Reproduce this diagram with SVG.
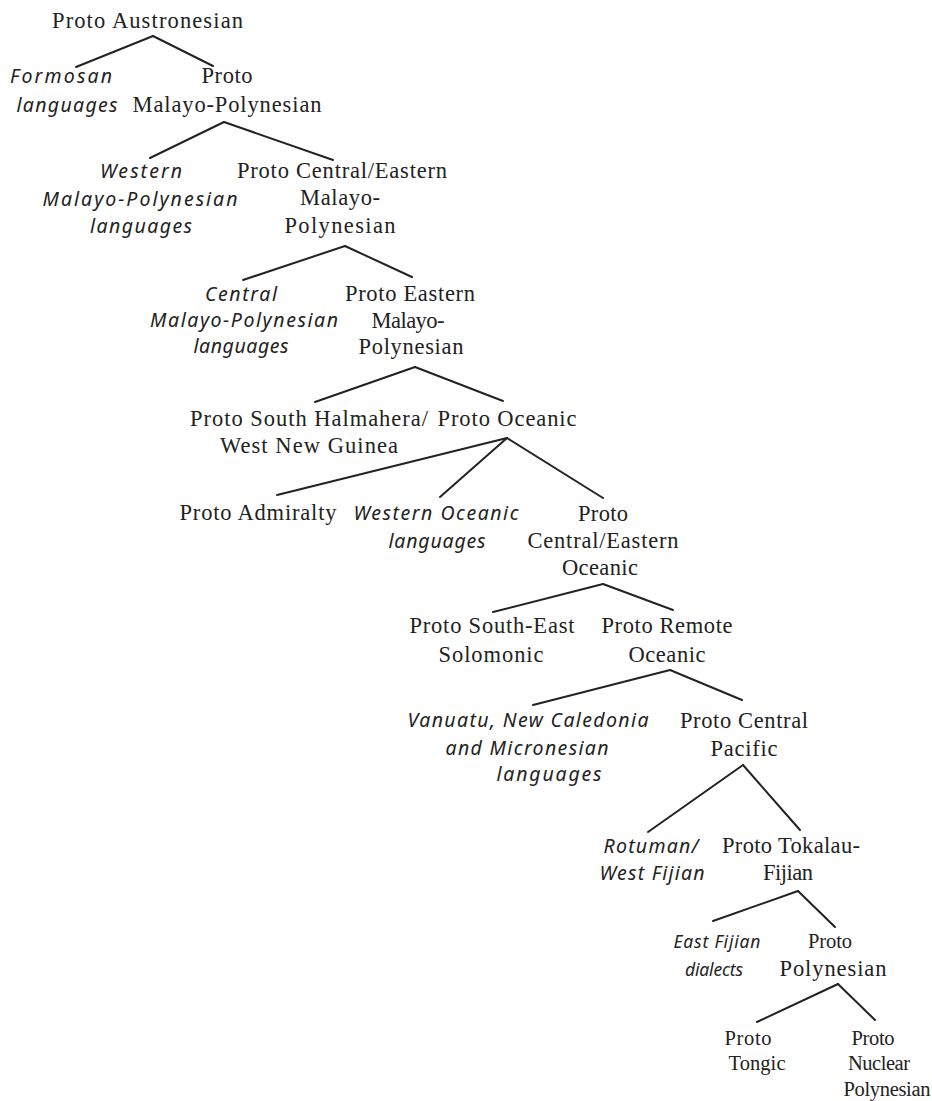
<svg xmlns="http://www.w3.org/2000/svg" width="932" height="1101" viewBox="0 0 932 1101">
<style>
text{fill:#222;text-anchor:middle}
.r{font-family:"Liberation Serif","Times New Roman",serif;font-size:22.5px}
.i{font-family:"Noto Sans","DejaVu Sans",sans-serif;font-size:19.5px;font-style:italic}
.s{font-size:20.5px}
.t{font-size:17.5px}
.c line{stroke:#222;stroke-width:2;stroke-linecap:round}
</style>
<rect width="932" height="1101" fill="#fff"/>
<g class="c" id="connectors">
<line x1="153" y1="36" x2="76" y2="67"/>
<line x1="153" y1="36" x2="213" y2="66"/>
<line x1="224" y1="122" x2="150" y2="158"/>
<line x1="224" y1="122" x2="333" y2="160"/>
<line x1="345" y1="246" x2="243" y2="280"/>
<line x1="345" y1="246" x2="412" y2="277"/>
<line x1="415" y1="367" x2="315" y2="402"/>
<line x1="415" y1="367" x2="503" y2="401"/>
<line x1="507" y1="438" x2="277" y2="495"/>
<line x1="507" y1="438" x2="440" y2="497"/>
<line x1="507" y1="438" x2="603" y2="498"/>
<line x1="603" y1="584" x2="493" y2="612"/>
<line x1="603" y1="584" x2="673" y2="610"/>
<line x1="670" y1="670" x2="533" y2="705"/>
<line x1="670" y1="670" x2="742" y2="700"/>
<line x1="743" y1="765" x2="648" y2="832"/>
<line x1="743" y1="765" x2="800" y2="830"/>
<line x1="798" y1="891" x2="713" y2="921"/>
<line x1="798" y1="891" x2="835" y2="927"/>
<line x1="838" y1="984" x2="757" y2="1022"/>
<line x1="838" y1="984" x2="875" y2="1020"/>
</g>
<g id="proto-austronesian"><text class="r" x="147.5" y="28" textLength="191">Proto Austronesian</text></g>
<g id="formosan"><text class="i" x="61" y="83" textLength="102">Formosan</text><text class="i" x="67" y="112" textLength="101">languages</text></g>
<g id="proto-malayo-polynesian"><text class="r" x="227" y="83" textLength="51">Proto</text><text class="r" x="227" y="112" textLength="189">Malayo-Polynesian</text></g>
<g id="western-mp"><text class="i" x="141" y="178" textLength="82">Western</text><text class="i" x="140" y="206" textLength="195">Malayo-Polynesian</text><text class="i" x="141" y="233" textLength="102">languages</text></g>
<g id="proto-central-eastern-mp"><text class="r" x="342" y="178" textLength="210">Proto Central/Eastern</text><text class="r" x="340" y="205" textLength="80">Malayo-</text><text class="r" x="340" y="233" textLength="111">Polynesian</text></g>
<g id="central-mp"><text class="i" x="241" y="301" textLength="72">Central</text><text class="i" x="244" y="327" textLength="188">Malayo-Polynesian</text><text class="i" x="241" y="353" textLength="95">languages</text></g>
<g id="proto-eastern-mp"><text class="r" x="410" y="301" textLength="130">Proto Eastern</text><text class="r" x="408" y="328" textLength="73">Malayo-</text><text class="r" x="411" y="354" textLength="105">Polynesian</text></g>
<g id="proto-shwng"><text class="r" x="309" y="426" textLength="238">Proto South Halmahera/</text><text class="r" x="309" y="453" textLength="178">West New Guinea</text></g>
<g id="proto-oceanic"><text class="r" x="507" y="426" textLength="139">Proto Oceanic</text></g>
<g id="proto-admiralty"><text class="r" x="258" y="520" textLength="157">Proto Admiralty</text></g>
<g id="western-oceanic"><text class="i" x="436" y="520" textLength="165">Western Oceanic</text><text class="i" x="437" y="548" textLength="97">languages</text></g>
<g id="proto-central-eastern-oceanic"><text class="r" x="603" y="521" textLength="50">Proto</text><text class="r" x="603" y="548" textLength="151">Central/Eastern</text><text class="r" x="600" y="575" textLength="76">Oceanic</text></g>
<g id="proto-se-solomonic"><text class="r" x="492" y="633" textLength="165">Proto South-East</text><text class="r" x="491" y="662" textLength="105">Solomonic</text></g>
<g id="proto-remote-oceanic"><text class="r" x="667" y="633" textLength="131">Proto Remote</text><text class="r" x="667" y="662" textLength="77">Oceanic</text></g>
<g id="vanuatu"><text class="i" x="528" y="727" textLength="241">Vanuatu, New Caledonia</text><text class="i" x="527" y="755" textLength="163">and Micronesian</text><text class="i" x="549" y="781" textLength="105">languages</text></g>
<g id="proto-central-pacific"><text class="r" x="744" y="728" textLength="128">Proto Central</text><text class="r" x="744" y="756" textLength="67">Pacific</text></g>
<g id="rotuman"><text class="i" x="651" y="853" textLength="95">Rotuman/</text><text class="i" x="652" y="880" textLength="105">West Fijian</text></g>
<g id="proto-tokalau-fijian"><text class="r" x="791" y="853" textLength="138">Proto Tokalau-</text><text class="r" x="788" y="880" textLength="50">Fijian</text></g>
<g id="east-fijian"><text class="i t" x="717" y="948" textLength="87">East Fijian</text><text class="i t" x="714" y="976" textLength="58">dialects</text></g>
<g id="proto-polynesian"><text class="r s" x="830" y="948" textLength="44">Proto</text><text class="r" x="833" y="976" textLength="107">Polynesian</text></g>
<g id="proto-tongic"><text class="r s" x="748" y="1045" textLength="47">Proto</text><text class="r s" x="757" y="1070" textLength="57">Tongic</text></g>
<g id="proto-nuclear-polynesian"><text class="r s" x="873" y="1045" textLength="43">Proto</text><text class="r s" x="879" y="1070" textLength="62">Nuclear</text><text class="r s" x="887" y="1096" textLength="87">Polynesian</text></g>
</svg>
